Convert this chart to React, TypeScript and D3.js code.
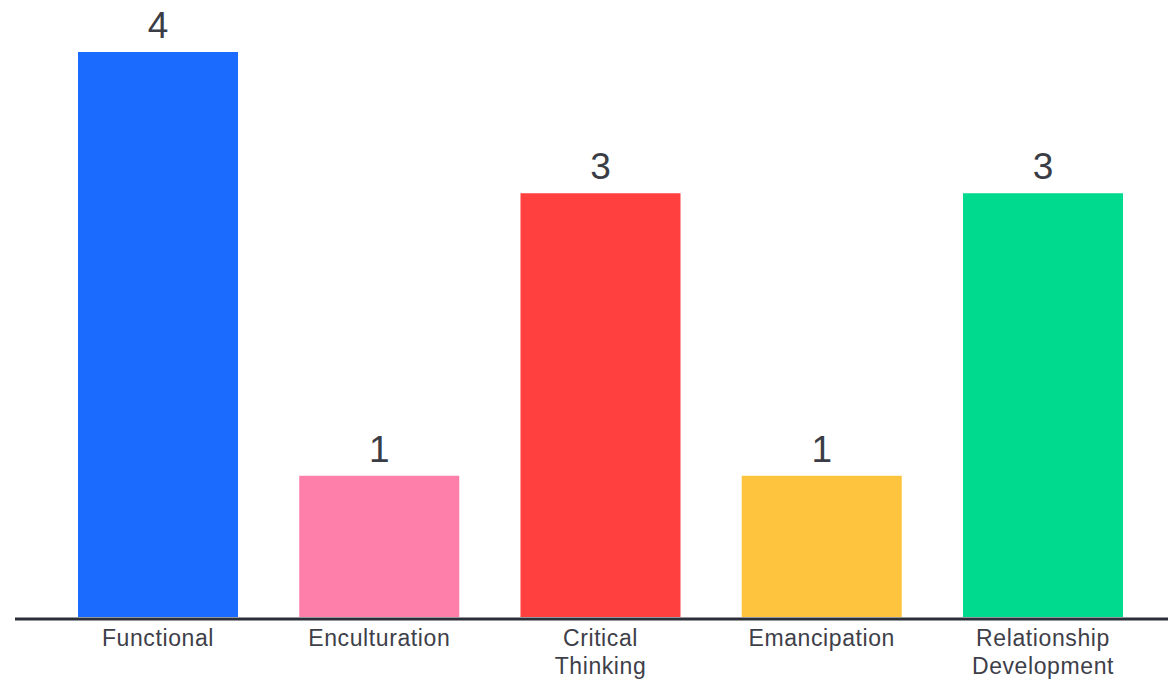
import React from "react";
import * as d3 from "d3";

const categories = ["Functional", "Enculturation", "Critical Thinking", "Emancipation", "Relationship Development"];
const labelLines = [["Functional"], ["Enculturation"], ["Critical", "Thinking"], ["Emancipation"], ["Relationship", "Development"]];
const values = [4, 1, 3, 1, 3];
const colors = ["#1c6bff", "#ff7fab", "#ff403f", "#ffc43d", "#00da8f"];

const W = 1168;
const H = 681;

export default function App() {
  const x = d3.scaleBand<string>().domain(categories).range([78, 1123]).paddingInner(0.2768).paddingOuter(0);
  const y = d3.scaleLinear().domain([0, 4]).range([617, 52]);

  return (
    <svg
      width={W}
      height={H}
      style={{ position: "absolute", left: 0, top: 0, background: "#fff" }}
    >
      {categories.map((c, i) => {
        const x0 = x(c) as number;
        const bw = x.bandwidth();
        const cx = x0 + bw / 2;
        return (
          <g key={c}>
            <rect x={x0} y={y(values[i])} width={bw} height={y(0) - y(values[i])} fill={colors[i]} />
            <text
              x={cx}
              y={y(values[i]) - 14}
              textAnchor="middle"
              fontFamily="Liberation Sans, Arial, sans-serif"
              fontSize={37}
              fill="#3a3d45"
            >
              {values[i]}
            </text>
            {labelLines[i].map((ln, j) => (
              <text
                key={j}
                x={cx}
                y={646 + j * 28}
                textAnchor="middle"
                fontFamily="Liberation Sans, Arial, sans-serif"
                fontSize={23}
                letterSpacing={0.6}
                fill="#3e4049"
              >
                {ln}
              </text>
            ))}
          </g>
        );
      })}
      <line x1={15} x2={W} y1={619} y2={619} stroke="#2b2f38" strokeWidth={3} />
    </svg>
  );
}
